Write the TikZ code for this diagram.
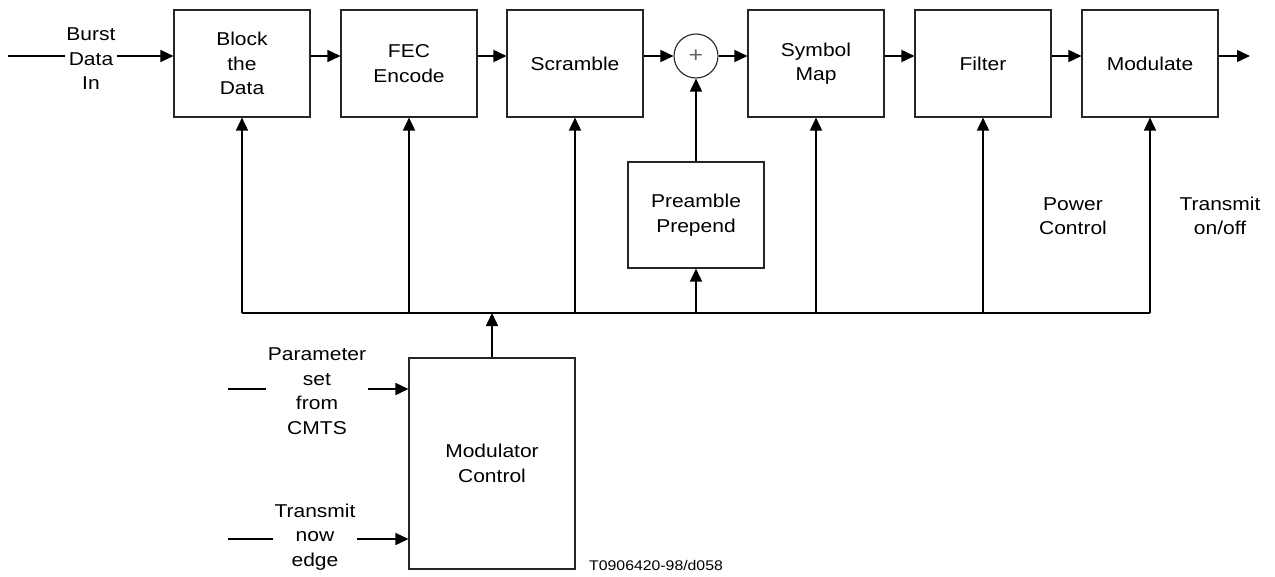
\documentclass[tikz,border=0pt]{standalone}
\usepackage{fontspec}
\setmainfont{Liberation Sans}[FakeStretch=1.13]
\usetikzlibrary{arrows.meta,calc}
\newcommand\mainfs{\fontsize{18.6}{24.5}\selectfont}
\begin{document}
\begin{tikzpicture}[x=1pt,y=-1pt,
  box/.style={draw=black!85, line width=1.1pt, minimum width=136pt, minimum height=107pt, align=center, inner sep=0pt, font=\mainfs},
  conn/.style={line width=1.6pt},
  arr/.style={conn, -{Triangle[length=13pt,width=12pt]}},
  lbl/.style={align=center, font=\mainfs, inner sep=1.5pt}]
\useasboundingbox (0,0) rectangle (1275,576);
% processing chain
\node[box] (blk) at (242,63.5) {Block\\the\\Data};
\node[box] (fec) at (409,63.5) {FEC\\Encode};
\node[box] (scr) at (575,63.5) {Scramble};
\node[draw=black!85, line width=1.1pt, circle, minimum size=44pt, inner sep=0pt, text=black!60, font=\fontsize{22}{22}\selectfont] (plus) at (696,56) {+};
\node[box] (sym) at (816,63.5) {Symbol\\Map};
\node[box] (fil) at (983,63.5) {Filter};
\node[box] (mod) at (1150,63.5) {Modulate};
\node[box, minimum height=106pt] (pre) at (696,215) {Preamble\\Prepend};
\node[box, minimum width=166pt, minimum height=211pt] (mc) at (492,463.5) {Modulator\\Control};
% input
\coordinate (inS) at (8,56);
\draw[arr] (inS) -- (blk.west |- plus);
\node[lbl, fill=white] (burst) at (91,59) {Burst\\Data\\In};
% chain arrows
\draw[arr] (blk.east |- plus) -- (fec.west |- plus);
\draw[arr] (fec.east |- plus) -- (scr.west |- plus);
\draw[arr] (scr.east |- plus) -- (plus.west);
\draw[arr] (plus.east) -- (sym.west |- plus);
\draw[arr] (sym.east |- plus) -- (fil.west |- plus);
\draw[arr] (fil.east |- plus) -- (mod.west |- plus);
\coordinate (out) at (1250,56);
\draw[arr] (mod.east |- plus) -- (out);
\draw[arr] (pre.north) -- (plus.south);
% bus
\coordinate (busL) at (242,313);
\coordinate (busR) at (1150,313);
\draw[conn] (busL) -- (busR);
\foreach \n in {blk,fec,scr,sym,fil,mod} \draw[arr] (\n.south |- busL) -- (\n.south);
\draw[arr] (pre.south |- busL) -- (pre.south);
\draw[arr] (mc.north) -- (mc.north |- busL);
% modulator control inputs
\coordinate (pin) at (228,389);
\draw[arr] (pin) -- (pin -| mc.west);
\node[lbl, fill=white] (par) at (317,391) {Parameter\\set\\from\\CMTS};
\coordinate (tin) at (228,539);
\draw[arr] (tin) -- (tin -| mc.west);
\node[lbl, fill=white] (tne) at (315,537) {Transmit\\now\\edge};
% side labels
\node[lbl] (pc) at (1073,216) {Power\\Control};
\node[lbl] (tx) at (1220,216) {Transmit\\on/off};
\node[anchor=west, inner sep=0pt, font=\fontsize{14}{16}\selectfont] (ref) at (589,565) {T0906420-98/d058};
\end{tikzpicture}
\end{document}
